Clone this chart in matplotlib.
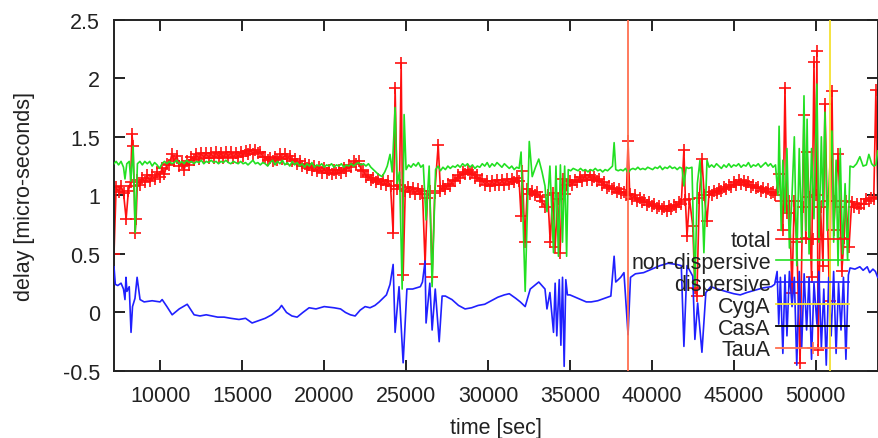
import matplotlib
matplotlib.use("Agg")
import matplotlib.pyplot as plt
from matplotlib.lines import Line2D

# ---------------- data ----------------
total_time = [7170, 7300, 7450, 7600, 7750, 7910, 8050, 8180, 8270, 8330, 8400, 8460, 8520, 8600, 8750, 8900,
              9050, 9200, 9350, 9500, 9650, 9800, 9950, 10100, 10250, 10400, 10550, 10700, 10850, 11000,
              11150, 11300, 11450, 11600, 11750, 11900, 12050, 12200, 12350, 12500, 12650, 12800, 12950,
              13100, 13250, 13400, 13550, 13700, 13850, 14000, 14150, 14300, 14450, 14600, 14750, 14900,
              15050, 15200, 15350, 15500, 15650, 15800, 15950, 16100, 16250, 16400, 16550, 16700, 16850,
              17000, 17150, 17300, 17450, 17600, 17750, 17900, 18050, 18200, 18350, 18500, 18650, 18800,
              18950, 19100, 19250, 19400, 19550, 19700, 19850, 20000, 20150, 20300, 20450, 20600, 20750,
              20900, 21050, 21200, 21350, 21500, 21650, 21800, 21950, 22100, 22250, 22400, 22550, 22700,
              22850, 23000, 23150, 23300, 23450, 23600, 23750, 23900, 24050, 24210, 24330, 24450, 24600,
              24700, 24820, 24950, 25100, 25250, 25400, 25550, 25700, 25850, 26000, 26160, 26300, 26450,
              26590, 26750, 26960, 27100, 27250, 27400, 27550, 27700, 27850, 28000, 28150, 28300, 28450,
              28600, 28750, 28900, 29050, 29200, 29350, 29500, 29650, 29800, 29950, 30100, 30250, 30400,
              30550, 30700, 30850, 31000, 31150, 31300, 31450, 31600, 31750, 31900, 32020, 32100, 32250,
              32400, 32550, 32700, 32850, 33000, 33150, 33300, 33480, 33650, 33800, 33950, 34100, 34250,
              34400, 34550, 34700, 34850, 35000, 35150, 35300, 35450, 35600, 35750, 35900, 36050, 36200,
              36350, 36500, 36650, 36800, 36950, 37100, 37250, 37400, 37550, 37700, 37850, 38000, 38150,
              38300, 38450, 38550, 38650, 38800, 38950, 39100, 39250, 39400, 39550, 39700, 39850, 40000,
              40150, 40300, 40450, 40600, 40750, 40900, 41050, 41200, 41350, 41500, 41650, 41800, 41960,
              42050, 42150, 42300, 42500, 42630, 42750, 42900, 43060, 43200, 43370, 43500, 43650, 43800,
              43950, 44100, 44250, 44400, 44550, 44700, 44850, 45000, 45150, 45300, 45450, 45600, 45750,
              45900, 46050, 46200, 46350, 46500, 46650, 46800, 46950, 47100, 47250, 47400, 47550,
              47770, 47900, 48000, 48130, 48250, 48400, 48560, 48690, 48850, 49050, 49200, 49290, 49400,
              49480, 49600, 49750, 49900, 50000, 50080, 50150, 50300, 50450, 50570, 50700, 50850, 51000,
              51100, 51200, 51370, 51500, 51600, 51740, 51850, 52040, 52200, 52350, 52500, 52650, 52800,
              52950, 53100, 53250, 53400, 53550, 53680, 53790]
total_delay = [0.50, 1.07, 1.03, 1.08, 1.02, 0.80, 1.04, 1.11, 1.52, 1.42, 1.08, 0.68, 0.80, 1.13, 1.09, 1.15,
               1.11, 1.17, 1.12, 1.17, 1.14, 1.20, 1.16, 1.23, 1.18, 1.27, 1.26, 1.35, 1.29, 1.34,
               1.25, 1.28, 1.22, 1.29, 1.26, 1.33, 1.30, 1.35, 1.31, 1.36, 1.32, 1.36, 1.32,
               1.36, 1.32, 1.37, 1.33, 1.36, 1.32, 1.37, 1.33, 1.37, 1.32, 1.36, 1.33, 1.37,
               1.34, 1.38, 1.35, 1.39, 1.35, 1.39, 1.36, 1.37, 1.33, 1.33, 1.30, 1.32, 1.29,
               1.33, 1.30, 1.35, 1.31, 1.35, 1.31, 1.34, 1.29, 1.31, 1.27, 1.29, 1.25, 1.27,
               1.23, 1.26, 1.22, 1.25, 1.21, 1.24, 1.19, 1.23, 1.19, 1.22, 1.18, 1.22, 1.19,
               1.22, 1.19, 1.23, 1.21, 1.26, 1.24, 1.29, 1.27, 1.29, 1.22, 1.21, 1.16, 1.17,
               1.13, 1.15, 1.11, 1.14, 1.10, 1.13, 1.09, 1.12, 1.08, 0.68, 1.92, 1.05, 1.09,
               2.13, 0.32, 1.04, 1.07, 1.03, 1.06, 1.01, 1.05, 1.01, 1.04, 0.41, 0.98, 1.04,
               0.30, 1.02, 1.43, 1.04, 1.08, 1.05, 1.10, 1.08, 1.13, 1.12, 1.17, 1.15, 1.20,
               1.18, 1.22, 1.18, 1.20, 1.15, 1.17, 1.12, 1.14, 1.09, 1.12, 1.08, 1.12, 1.09,
               1.13, 1.09, 1.13, 1.09, 1.14, 1.10, 1.14, 1.11, 1.15, 1.12, 0.82, 1.21, 0.60,
               1.05, 1.01, 1.04, 1.00, 1.03, 0.99, 0.95, 0.90, 1.00, 0.60, 1.02, 0.56, 0.97,
               0.51, 1.14, 1.01, 1.09, 1.12, 1.09, 1.13, 1.11, 1.16, 1.12, 1.17, 1.13, 1.17,
               1.13, 1.16, 1.12, 1.14, 1.09, 1.11, 1.06, 1.08, 1.05, 1.06, 1.03, 1.05, 1.02,
               1.03, 1.00, 1.46, 1.01, 0.97, 1.00, 0.95, 0.98, 0.94, 0.96, 0.92, 0.94, 0.91,
               0.93, 0.89, 0.91, 0.88, 0.90, 0.87, 0.91, 0.88, 0.92, 0.90, 0.94, 0.93, 1.39,
               0.96, 0.65, 0.97, 0.74, 0.21, 0.14, 0.98, 1.31, 1.00, 0.78, 1.03, 1.00, 1.04,
               1.02, 1.05, 1.04, 1.07, 1.05, 1.09, 1.07, 1.11, 1.09, 1.13, 1.10, 1.12, 1.09,
               1.11, 1.07, 1.09, 1.06, 1.07, 1.04, 1.06, 1.03, 1.05, 1.02, 1.03, 1.00,
               1.18, 0.95, 0.70, 1.92, 0.85, 0.95, 0.17, 0.95, 0.60, -0.43, 0.90, 1.69, 0.64,
               1.37, 0.99, 0.30, 2.14, 1.00, 2.23, -0.32, 0.90, 0.40, 1.78, 0.95, 0.10, 1.89,
               0.70, 0.95, 1.35, 0.90, 0.35, 0.64, 0.95, 0.56, 0.94, 0.90, 0.93, 0.89, 0.93,
               0.93, 0.97, 0.95, 0.98, 0.97, 1.90, 0.99]

nondisp_time = [7170, 7300, 7450, 7600, 7750, 7840, 7950, 8100, 8200, 8340, 8460, 8600, 8750, 8900, 9050,
                9200, 9350, 9500, 9650, 9800, 9950, 10100, 10250, 10400, 10550, 10700, 10850, 11000,
                11150, 11300, 11450, 11600, 11750, 11900, 12050, 12200, 12350, 12500, 12650, 12800,
                12950, 13100, 13250, 13400, 13550, 13700, 13850, 14000, 14150, 14300, 14450, 14600,
                14750, 14900, 15050, 15200, 15350, 15500, 15650, 15800, 15950, 16100, 16250, 16400,
                16550, 16700, 16850, 17000, 17150, 17300, 17450, 17600, 17750, 17900, 18050, 18200,
                18350, 18500, 18650, 18800, 18950, 19100, 19250, 19400, 19550, 19700, 19850, 20000,
                20150, 20300, 20450, 20600, 20750, 20900, 21050, 21200, 21350, 21500, 21650, 21800,
                21950, 22100, 22250, 22400, 22550, 22700, 22850, 23000, 23150, 23300, 23530, 23700,
                23850, 24020, 24150, 24330, 24450, 24600, 24760, 24880, 25000, 25150, 25300, 25450,
                25600, 25750, 25900, 26050, 26220, 26410, 26590, 26800, 26950, 27100, 27250, 27400,
                27550, 27700, 27850, 28000, 28150, 28300, 28450, 28600, 28750, 28900, 29050, 29200,
                29350, 29500, 29650, 29800, 29950, 30100, 30250, 30400, 30550, 30700, 30850, 31000,
                31150, 31300, 31450, 31600, 31750, 31900, 32020, 32270, 32520, 32700, 32900, 33100,
                33300, 33480, 33600, 33780, 34000, 34150, 34300, 34420, 34550, 34680, 34800, 34900,
                35050, 35200, 35350, 35500, 35650, 35800, 35950, 36100, 36250, 36400, 36550, 36700,
                36850, 37000, 37150, 37300, 37450, 37600, 37700, 37800, 37950, 38100, 38250, 38400,
                38550, 38700, 38850, 39000, 39150, 39300, 39450, 39600, 39750, 39900, 40050, 40200,
                40350, 40500, 40650, 40800, 40950, 41100, 41250, 41400, 41550, 41700, 41850, 41960,
                42100, 42250, 42450, 42630, 42780, 42940, 43060, 43180, 43370, 43500, 43650, 43800,
                43950, 44100, 44250, 44400, 44550, 44700, 44850, 45000, 45150, 45300, 45450, 45600,
                45750, 45900, 46050, 46200, 46350, 46500, 46650, 46800, 46950, 47100, 47250, 47400,
                47550, 47700, 47770, 47900, 48000, 48130, 48250, 48400, 48560, 48700, 48850, 49000,
                49150, 49290, 49400, 49480, 49600, 49750, 49900, 50080, 50200, 50350, 50450, 50570,
                50700, 50850, 51000, 51100, 51250, 51370, 51500, 51650, 51800, 51950, 52100, 52300,
                52500, 52700, 52900, 53100, 53250, 53420, 53550, 53680, 53790]
nondisp_delay = [1.27, 1.29, 1.26, 1.29, 1.24, 1.14, 1.27, 1.29, 1.12, 1.42, 0.68, 1.27, 1.29, 1.26, 1.29,
                 1.27, 1.29, 1.25, 1.28, 1.26, 1.23, 1.27, 1.29, 1.27, 1.29, 1.27, 1.28, 1.30,
                 1.27, 1.29, 1.27, 1.30, 1.28, 1.29, 1.27, 1.29, 1.28, 1.30, 1.27, 1.29,
                 1.28, 1.30, 1.28, 1.29, 1.27, 1.29, 1.28, 1.30, 1.28, 1.27, 1.29, 1.28,
                 1.27, 1.29, 1.27, 1.28, 1.26, 1.28, 1.30, 1.27, 1.28, 1.26, 1.28, 1.27,
                 1.25, 1.28, 1.30, 1.26, 1.29, 1.27, 1.30, 1.26, 1.28, 1.25, 1.29, 1.26,
                 1.28, 1.25, 1.27, 1.24, 1.27, 1.25, 1.28, 1.24, 1.26, 1.25, 1.27, 1.24,
                 1.26, 1.25, 1.27, 1.24, 1.26, 1.25, 1.27, 1.24, 1.26, 1.25, 1.27, 1.25,
                 1.27, 1.28, 1.26, 1.27, 1.25, 1.27, 1.24, 1.22, 1.20, 1.18, 1.16, 1.20,
                 1.25, 1.35, 1.20, 1.75, 1.10, 1.20, 0.20, 1.69, 1.22, 1.26, 1.24, 1.27,
                 1.25, 1.28, 1.24, 1.26, 0.79, 1.25, 0.22, 1.22, 1.25, 1.21, 1.24, 1.22,
                 1.25, 1.23, 1.25, 1.24, 1.26, 1.24, 1.27, 1.25, 1.27, 1.24, 1.26, 1.23,
                 1.25, 1.24, 1.27, 1.25, 1.28, 1.24, 1.27, 1.25, 1.28, 1.26, 1.24, 1.27,
                 1.25, 1.23, 1.25, 1.22, 1.24, 1.23, 1.37, 0.18, 1.46, 1.16, 1.24, 1.31,
                 1.20, 1.08, 0.86, 1.25, 0.51, 1.25, 0.48, 1.26, 0.60, 1.25, 0.48, 1.22,
                 1.21, 1.23, 1.22, 1.21, 1.23, 1.21, 1.22, 1.20, 1.22, 1.21, 1.23, 1.21,
                 1.22, 1.20, 1.22, 1.21, 1.23, 1.25, 1.45, 1.22, 1.21, 1.22, 1.21, 1.23,
                 1.19, 1.22, 1.23, 1.22, 1.24, 1.22, 1.23, 1.22, 1.24, 1.23, 1.22, 1.24,
                 1.23, 1.25, 1.22, 1.24, 1.23, 1.25, 1.23, 1.24, 1.22, 1.24, 1.23, 1.08,
                 1.24, 1.23, 1.24, 0.22, 1.10, 1.30, 1.00, 0.51, 1.30, 1.24, 1.26, 1.24,
                 1.27, 1.25, 1.23, 1.26, 1.24, 1.27, 1.24, 1.26, 1.25, 1.27, 1.24, 1.26,
                 1.25, 1.28, 1.24, 1.26, 1.25, 1.27, 1.24, 1.26, 1.28, 1.25, 1.27, 1.24,
                 1.26, 1.00, 1.59, 0.70, 1.30, 0.85, 1.40, 0.55, 1.00, 1.50, 0.40, 1.40,
                 0.60, 1.85, 0.70, 1.65, 0.50, 1.40, 0.80, 1.95, 0.60, 1.50, 0.90, 1.71,
                 0.70, 1.20, 1.55, 0.60, 1.30, 0.40, 1.40, 0.50, 1.10, 0.45, 1.25, 1.24,
                 1.27, 1.33, 1.25, 1.26, 1.35, 1.27, 1.25, 1.26, 1.38]

disp_time = [7170, 7250, 7400, 7600, 7750, 7840, 7900, 7960, 8100, 8210, 8300, 8450, 8580, 8760, 9010,
             9500, 9980, 10110, 10400, 10720, 11150, 11400, 11640, 12060, 12420, 12800, 13150, 13500,
             13890, 14300, 14800, 15200, 15600, 16000, 16400, 16800, 17250, 17400, 17700, 18030,
             18350, 18700, 19080, 19500, 20000, 20600, 21000, 21300, 21600, 21890, 22200, 22500,
             22800, 23100, 23360, 23800, 24020, 24210, 24330, 24570, 24820, 25050, 25400, 25870,
             26000, 26160, 26220, 26450, 26590, 26780, 27020, 27200, 27400, 27800, 28200, 28600,
             29000, 29400, 29800, 30200, 30600, 31000, 31300, 31700, 31970, 32270, 32580, 33100,
             33480, 33600, 33780, 34000, 34100, 34200, 34350, 34450, 34550, 34650, 34750, 34850,
             35000, 35500, 36000, 36300, 36700, 37100, 37500, 37700, 37800, 38100, 38300, 38550,
             38700, 39000, 39500, 40000, 40500, 41000, 41500, 41800, 41960, 42150, 42500, 42630,
             42800, 43060, 43300, 43600, 44000, 44500, 45000, 45400, 45800, 46300, 46800, 47300,
             47500, 47650, 47750, 47850, 48000, 48130, 48250, 48400, 48560, 48700, 48850, 49000,
             49150, 49300, 49450, 49600, 49750, 49900, 50080, 50200, 50350, 50500, 50650, 50800,
             50950, 51100, 51250, 51400, 51550, 51700, 51850, 52000, 52100, 52400, 52700, 52900,
             53150, 53300, 53500, 53650, 53790]
disp_delay = [0.39, 0.24, 0.23, 0.25, 0.20, 0.11, 0.30, 0.18, 0.22, -0.17, 0.05, 0.12, 0.30, 0.11, 0.09,
              0.10, 0.09, 0.11, 0.05, -0.02, 0.03, 0.05, 0.07, -0.02, -0.03, -0.02, -0.03, -0.04,
              -0.04, -0.05, -0.06, -0.05, -0.09, -0.07, -0.05, -0.02, 0.03, 0.06, 0.00, -0.03,
              -0.04, 0.00, 0.04, 0.03, 0.05, 0.04, 0.03, 0.00, -0.02, -0.03, 0.02, 0.05,
              0.04, 0.06, 0.09, 0.15, 0.24, 0.41, -0.17, 0.22, -0.43, 0.20, 0.20, 0.22,
              0.26, 0.44, -0.09, 0.25, -0.15, 0.20, -0.25, 0.14, 0.14, 0.11, 0.06, 0.03,
              0.04, 0.06, 0.07, 0.10, 0.13, 0.15, 0.16, 0.12, 0.09, 0.05, 0.20, 0.26,
              0.20, 0.03, 0.17, -0.17, 0.25, -0.20, 0.28, -0.28, 0.30, -0.46, 0.28, 0.15,
              0.15, 0.12, 0.09, 0.09, 0.10, 0.12, 0.14, 0.48, 0.26, 0.30, 0.34, -0.19,
              0.30, 0.33, 0.34, 0.37, 0.40, 0.42, 0.41, 0.40, -0.29, 0.40, 0.31, -0.23,
              0.08, -0.34, 0.17, 0.22, 0.20, 0.18, 0.16, 0.15, 0.17, 0.19, 0.21, 0.22,
              0.24, 0.35, -0.10, 0.30, -0.35, 0.32, -0.20, 0.35, 0.05, 0.30, -0.45, 0.35,
              -0.30, 0.33, -0.15, 0.30, -0.40, 0.25, -0.10, 0.35, -0.30, 0.20, -0.45, 0.30,
              -0.20, 0.35, -0.35, 0.25, -0.15, 0.30, -0.40, 0.32, 0.38, 0.37, 0.39, 0.36,
              0.39, 0.34, 0.37, 0.35, 0.30]

cyga_time = [50890]
casa_time = []
taua_time = [38540]

labels = ["total", "non-dispersive", "dispersive", "CygA", "CasA", "TauA"]
xticks = [10000, 15000, 20000, 25000, 30000, 35000, 40000, 45000, 50000]
yticks = [-0.5, 0, 0.5, 1, 1.5, 2, 2.5]

# ---------------- style ----------------
RED = "#ff1010"
GREEN = "#22e022"
BLUE = "#2020ff"
YELLOW = "#f5e030"
BLACK = "#000000"
ORANGE = "#ff7050"
FS = 15.5

plt.rcParams["font.family"] = ["Liberation Sans", "DejaVu Sans"]

fig = plt.figure(figsize=(8.79, 4.39), dpi=100)
ax = fig.add_axes([114 / 879, 1 - 372 / 439, (877.7 - 114) / 879, (372 - 20.7) / 439])

ax.plot(total_time, total_delay, color=RED, lw=1.2, marker="+", ms=8, mew=1.2, zorder=2)
ax.plot(nondisp_time, nondisp_delay, color=GREEN, lw=1.2, zorder=3)
ax.plot(disp_time, disp_delay, color=BLUE, lw=1.2, zorder=3)
for t in cyga_time:
    ax.axvline(t, color=YELLOW, lw=1.3, zorder=4)
for t in casa_time:
    ax.axvline(t, color=BLACK, lw=1.3, zorder=4)
for t in taua_time:
    ax.axvline(t, color=ORANGE, lw=1.3, zorder=4)

ax.set_xlim(total_time[0], total_time[-1])
ax.set_ylim(-0.5, 2.5)
ax.set_xticks(xticks)
ax.set_xticklabels([str(v) for v in xticks])
ax.set_yticks(yticks)
ax.set_yticklabels(["-0.5", "0", "0.5", "1", "1.5", "2", "2.5"])
ax.tick_params(direction="in", length=8, width=1.4, top=True, right=True, labelsize=FS, colors="#222222")
ax.tick_params(axis="x", pad=10)
ax.tick_params(axis="y", pad=10)
for s in ax.spines.values():
    s.set_linewidth(1.4)
    s.set_color("#222222")

ax.set_xlabel("time [sec]", fontsize=FS, color="#222222", labelpad=8)
ax.set_ylabel("delay [micro-seconds]", fontsize=FS, color="#222222", labelpad=20)

handles = [
    Line2D([], [], color=RED, lw=1.2, marker="+", ms=8, mew=1.2),
    Line2D([], [], color=GREEN, lw=1.2),
    Line2D([], [], color=BLUE, lw=1.2),
    Line2D([], [], color=YELLOW, lw=1.3),
    Line2D([], [], color=BLACK, lw=1.3),
    Line2D([], [], color=ORANGE, lw=1.3, marker="+", ms=8, mew=1.2),
]
leg = ax.legend(handles, labels, loc="lower right", bbox_to_anchor=(0.963, 0.03),
                frameon=False, markerfirst=False, fontsize=FS, handlelength=3.4,
                handletextpad=0.25, labelspacing=0.04, borderpad=0, borderaxespad=0)
for txt in leg.get_texts():
    txt.set_color("#222222")
leg.set_zorder(5)

fig.savefig("out.png", dpi=100, facecolor="white")
